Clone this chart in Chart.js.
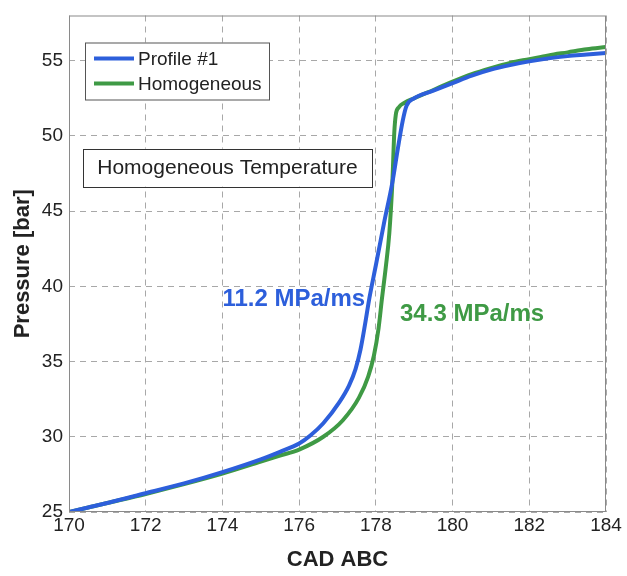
<!DOCTYPE html>
<html>
<head>
<meta charset="utf-8">
<script src="https://cdn.jsdelivr.net/npm/chart.js@4/dist/chart.umd.min.js"></script>
<style>
  html, body { margin: 0; padding: 0; background: #fff; }
  #wrap { width: 627px; height: 576px; }
</style>
</head>
<body>
<div id="wrap"><canvas id="pressure-chart" width="627" height="576"></canvas></div>
<script>
  // crank angle (CAD ABC) and cylinder pressure (bar) for both runs
  var profileCad = [170.0, 170.5, 171.0, 172.0, 173.0, 174.0, 175.0, 175.5, 176.0, 176.3, 176.63, 177.05, 177.3, 177.47, 177.6, 177.72, 177.83, 178.0, 178.22, 178.43, 178.57, 178.7, 178.8, 179.0, 179.5, 180.0, 180.5, 181.0, 181.5, 182.0, 182.5, 183.0, 183.5, 184.0];
  var profilePressure = [25.0, 25.3, 25.6, 26.25, 26.9, 27.65, 28.5, 29.0, 29.55, 30.1, 30.9, 32.3, 33.4, 34.5, 35.8, 37.5, 39.2, 41.4, 44.3, 46.9, 49.1, 51.0, 52.0, 52.5, 53.0, 53.5, 54.0, 54.4, 54.7, 54.95, 55.15, 55.3, 55.4, 55.5];
  var homogCad = [170.0, 171.0, 172.0, 173.0, 174.0, 175.0, 175.5, 176.0, 176.63, 177.14, 177.56, 177.8, 177.95, 178.07, 178.16, 178.26, 178.35, 178.43, 178.48, 178.52, 178.6, 178.75, 179.0, 179.5, 180.0, 180.5, 181.0, 181.5, 182.0, 182.5, 183.0, 183.5, 184.0];
  var homogPressure = [25.0, 25.6, 26.2, 26.85, 27.55, 28.35, 28.75, 29.15, 30.0, 31.1, 32.6, 34.0, 35.4, 37.2, 39.2, 41.3, 43.5, 46.9, 50.2, 51.4, 51.9, 52.2, 52.5, 53.05, 53.6, 54.1, 54.5, 54.85, 55.1, 55.35, 55.55, 55.75, 55.9];

  var seriesNames = ['Profile #1', 'Homogeneous'];
  var seriesColors = ['#2d5fdb', '#3f9a45'];
  var rateLabels = ['11.2 MPa/ms', '34.3 MPa/ms'];
  var rateAnchors = [[174.0, 39.15], [178.63, 38.15]];
  var caseTitle = 'Homogeneous Temperature';
  var caseBox = [170.36, 177.9, 49.15, 46.65];

  var FONT = '"Liberation Sans", Arial, Helvetica, sans-serif';

  function toPoints(xs, ys) {
    return xs.map(function (x, i) { return { x: x, y: ys[i] }; });
  }

  // frame, legend, case label box and the rate annotations
  var decorations = {
    id: 'decorations',
    afterDatasetsDraw: function (chart) {
      var ctx = chart.ctx;
      var area = chart.chartArea;
      var xs = chart.scales.x, ys = chart.scales.y;
      ctx.save();

      ctx.strokeStyle = '#8a8a8a';
      ctx.lineWidth = 1;
      ctx.strokeRect(area.left + 0.5, area.top + 0.5, area.right - area.left - 1, area.bottom - area.top - 1);

      // legend
      var lx = area.left + 16, ly = area.top + 27;
      ctx.fillStyle = '#fff';
      ctx.fillRect(lx, ly, 184, 57);
      ctx.strokeStyle = '#555';
      ctx.strokeRect(lx + 0.5, ly + 0.5, 184, 57);
      ctx.font = '19px ' + FONT;
      ctx.textBaseline = 'middle';
      ctx.textAlign = 'left';
      seriesNames.forEach(function (name, i) {
        var rowY = ly + 16 + i * 25;
        ctx.strokeStyle = seriesColors[i];
        ctx.lineWidth = 4;
        ctx.beginPath();
        ctx.moveTo(lx + 9, rowY);
        ctx.lineTo(lx + 49, rowY);
        ctx.stroke();
        ctx.fillStyle = '#222';
        ctx.fillText(name, lx + 53, rowY + 1);
      });

      // case label
      var bx0 = xs.getPixelForValue(caseBox[0]), bx1 = xs.getPixelForValue(caseBox[1]);
      var by0 = ys.getPixelForValue(caseBox[2]), by1 = ys.getPixelForValue(caseBox[3]);
      ctx.fillStyle = '#fff';
      ctx.fillRect(bx0, by0, bx1 - bx0, by1 - by0);
      ctx.strokeStyle = '#333';
      ctx.lineWidth = 1;
      ctx.strokeRect(Math.round(bx0) + 0.5, Math.round(by0) + 0.5, Math.round(bx1 - bx0), Math.round(by1 - by0));
      ctx.fillStyle = '#222';
      ctx.font = '21px ' + FONT;
      ctx.textAlign = 'center';
      ctx.fillText(caseTitle, (bx0 + bx1) / 2, (by0 + by1) / 2 + 1);

      // pressure rise rates
      ctx.font = 'bold 24px ' + FONT;
      ctx.textAlign = 'left';
      rateLabels.forEach(function (label, i) {
        ctx.fillStyle = seriesColors[i];
        ctx.fillText(label, xs.getPixelForValue(rateAnchors[i][0]), ys.getPixelForValue(rateAnchors[i][1]));
      });
      ctx.restore();
    }
  };

  var config = {
    type: 'line',
    data: {
      datasets: [
        {
          label: seriesNames[0],
          data: toPoints(profileCad, profilePressure),
          borderColor: seriesColors[0],
          borderWidth: 4,
          pointRadius: 0,
          cubicInterpolationMode: 'monotone'
        },
        {
          label: seriesNames[1],
          data: toPoints(homogCad, homogPressure),
          borderColor: seriesColors[1],
          borderWidth: 4,
          pointRadius: 0,
          cubicInterpolationMode: 'monotone'
        }
      ]
    },
    options: {
      responsive: false,
      animation: false,
      layout: { padding: { top: 10, right: 21, left: 0, bottom: 0 } },
      scales: {
        x: {
          type: 'linear',
          min: 170,
          max: 184,
          afterFit: function (scale) { scale.height = 64; },
          ticks: { stepSize: 2, padding: 4, color: '#222', font: { family: FONT, size: 19, lineHeight: 1 } },
          grid: { color: '#a8a8a8', drawTicks: false },
          border: { display: false, dash: [6, 5] },
          title: { display: true, text: 'CAD ABC', color: '#222', font: { family: FONT, size: 22, weight: 'bold' }, padding: { top: 0, bottom: 3 } }
        },
        y: {
          min: 25,
          max: 58,
          afterFit: function (scale) { scale.width = 69; },
          ticks: { stepSize: 5, includeBounds: false, padding: 6, color: '#222', font: { family: FONT, size: 19, lineHeight: 1 } },
          grid: { color: '#a8a8a8', drawTicks: false },
          border: { display: false, dash: [6, 5] },
          title: { display: true, text: 'Pressure [bar]', color: '#222', font: { family: FONT, size: 22, weight: 'bold' }, padding: { top: 10, bottom: 0 } }
        }
      },
      plugins: {
        legend: { display: false },
        tooltip: { enabled: false }
      }
    },
    plugins: [decorations]
  };
  new Chart(document.getElementById('pressure-chart'), config);
</script>
</body>
</html>
